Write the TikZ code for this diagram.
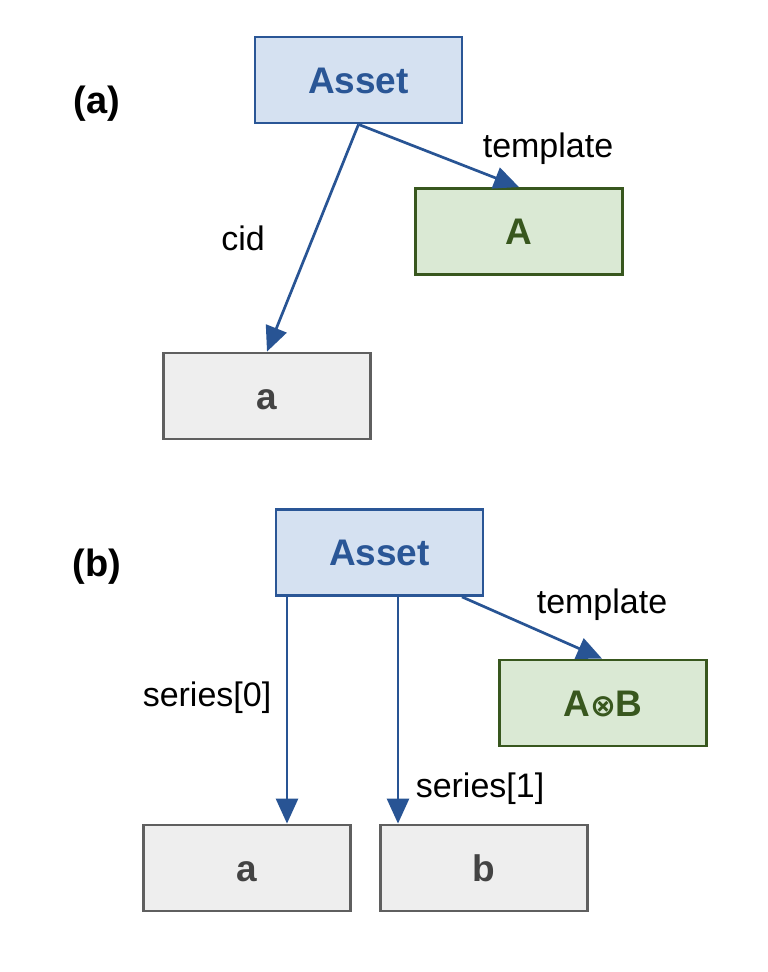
\documentclass[tikz,border=0pt]{standalone}
\usepackage{fontspec}
\setmainfont{Liberation Sans}
\newfontfamily\djv{DejaVu Sans}
\usetikzlibrary{arrows.meta}
\definecolor{bfill}{RGB}{213,225,241}
\definecolor{bdraw}{RGB}{42,86,150}
\definecolor{gfill}{RGB}{218,233,212}
\definecolor{gdraw}{RGB}{56,87,30}
\definecolor{kfill}{RGB}{238,238,238}
\definecolor{kdraw}{RGB}{95,95,95}
\definecolor{ktext}{RGB}{67,67,67}
\definecolor{acol}{RGB}{40,84,148}
\tikzset{
  box/.style={rectangle, line width=2.8pt, minimum width=207pt, minimum height=86pt, inner sep=0pt,
    font=\fontsize{37}{44}\selectfont\bfseries, text height=26pt, text depth=0pt},
  bluebox/.style={box, fill=bfill, draw=bdraw, text=bdraw},
  greenbox/.style={box, fill=gfill, draw=gdraw, text=gdraw},
  graybox/.style={box, fill=kfill, draw=kdraw, text=ktext},
  lbl/.style={anchor=base, inner sep=0pt, font=\fontsize{34}{40}\selectfont},
  tag/.style={anchor=base, inner sep=0pt, font=\fontsize{38}{42}\selectfont\bfseries},
  arr/.style={draw=acol, line width=2.7pt, -{Triangle[length=25pt,width=22pt]}}
}
\begin{document}
\begin{tikzpicture}[x=1pt,y=-1pt]
\useasboundingbox (0,0) rectangle (768,972);
% (a)
\node[tag] (ta) at (97,113) {(a)};
\node[bluebox] (asseta) at (358.5,80) {Asset};
\node[greenbox] (Aa) at (519,231.5) {A};
\node[graybox] (aa) at (267,396) {a};
\draw[arr] (asseta.south) -- (aa.north);
\draw[arr] (asseta.south) -- (Aa.north);
\node[lbl] (lcid) at (243,250) {cid};
\node[lbl] (lta) at (548,157) {template};
% (b)
\node[tag] (tb) at (97,576) {(b)};
\node[bluebox] (assetb) at (379.5,552.5) {Asset};
\node[greenbox] (AB) at (603,703) {A{\djv\fontsize{31}{34}\selectfont\bfseries ⊗}B};
\node[graybox] (ab) at (247,868) {a};
\node[graybox] (bb) at (484,868) {b};
\draw[arr] ([xshift=-92.5pt]assetb.south) -- ([xshift=40pt]ab.north);
\draw[arr] ([xshift=18.5pt]assetb.south) -- ([xshift=-86pt]bb.north);
\draw[arr] ([xshift=82.5pt]assetb.south) -- ([xshift=-1pt]AB.north);
\node[lbl] (ls0) at (207,706) {series[0]};
\node[lbl] (ls1) at (480,797) {series[1]};
\node[lbl] (ltb) at (602,613) {template};
\end{tikzpicture}
\end{document}
